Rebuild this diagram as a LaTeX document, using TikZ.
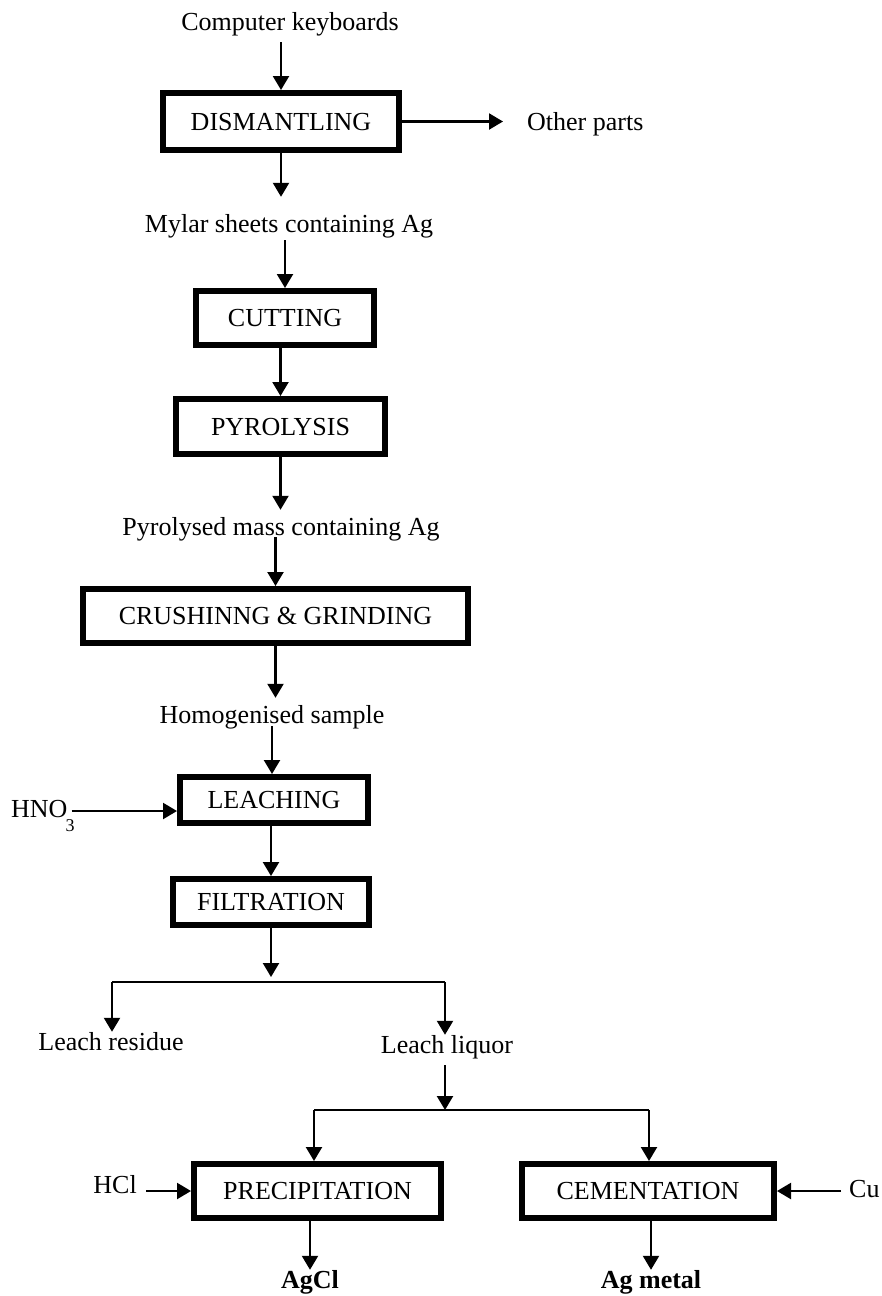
\documentclass[tikz,border=0pt]{standalone}
\usepackage{fontspec}
\setmainfont{Liberation Serif}
\usetikzlibrary{arrows.meta}

\tikzset{
  stagebox/.style={draw, line width=6pt, inner sep=0pt,
    text height=17pt, text depth=0pt, font=\fontsize{26}{30}\selectfont},
  lbl/.style={inner sep=0pt, text height=18pt, text depth=6pt,
    font=\fontsize{26}{30}\selectfont},
  arr/.style={line width=2.2pt, -{Triangle[length=14pt,width=16pt]}},
  branch/.style={line width=1.4pt}
}

\begin{document}
\begin{tikzpicture}[x=1pt, y=-1pt]
\useasboundingbox (0,0) rectangle (882,1296);

% process stages
\node[stagebox, minimum width=236pt, minimum height=57pt] (dis)   at (281,121.5) {DISMANTLING};
\node[stagebox, minimum width=178pt, minimum height=54pt] (cut)   at (285,318)   {CUTTING};
\node[stagebox, minimum width=209pt, minimum height=55pt] (pyr)   at (280.5,426.5) {PYROLYSIS};
\node[stagebox, minimum width=385pt, minimum height=54pt] (crush) at (275.5,616) {CRUSHINNG \& GRINDING};
\node[stagebox, minimum width=188pt, minimum height=46pt] (leach) at (274,800)   {LEACHING};
\node[stagebox, minimum width=196pt, minimum height=46pt] (fil)   at (271,902)   {FILTRATION};
\node[stagebox, minimum width=247pt, minimum height=54pt] (prec)  at (317.5,1191) {PRECIPITATION};
\node[stagebox, minimum width=252pt, minimum height=54pt] (cem)   at (648,1191)  {CEMENTATION};

% material streams
\node[lbl, anchor=base] (ck)    at (290,30)   {Computer keyboards};
\node[lbl, anchor=base west] (oth) at (527,130) {Other parts};
\node[lbl, anchor=base] (mylar) at (289,232)  {Mylar sheets containing Ag};
\node[lbl, anchor=base] (pyro)  at (281,535)  {Pyrolysed mass containing Ag};
\node[lbl, anchor=base] (hom)   at (272,723)  {Homogenised sample};
\node[lbl, anchor=base west] (hno) at (11,817) {HNO\kern-2pt\raisebox{-14pt}{\fontsize{18}{18}\selectfont 3}};
\node[lbl, anchor=base] (res)   at (111,1050) {Leach residue};
\node[lbl, anchor=base] (liq)   at (447,1053) {Leach liquor};
\node[lbl, anchor=base east] (hcl) at (137,1193) {HCl};
\node[lbl, anchor=base west] (cu)  at (849,1197) {Cu};
\node[lbl, anchor=base, font=\fontsize{26}{30}\selectfont\bfseries] (agcl) at (310,1288) {AgCl};
\node[lbl, anchor=base, font=\fontsize{26}{30}\selectfont\bfseries] (agm)  at (651,1288) {Ag metal};

% branching points
\coordinate (fj) at (271,977);
\coordinate (sl) at (112,982);
\coordinate (sr) at (445,982);
\coordinate (lj) at (445,1110);
\coordinate (pl) at (314,1110);
\coordinate (cl) at (649,1110);

% main line
\draw[arr, shorten <=6pt] (ck.south -| dis.north) -- (dis.north);
\draw[arr, shorten >=17pt] (dis.south) -- (dis.south |- mylar.north);
\draw[arr, shorten >=24pt] (dis.east) -- (dis.east -| oth.west);
\draw[arr, shorten <=2pt] (mylar.south -| cut.north) -- (cut.north);
\draw[arr] (cut.south -| pyr.north) -- (pyr.north);
\draw[arr, shorten >=7pt] (pyr.south) -- (pyr.south |- pyro.north);
\draw[arr, shorten <=-4pt] (pyro.south -| crush.north) -- (crush.north);
\draw[arr, shorten >=7pt] (crush.south) -- (crush.south |- hom.north);
\draw[arr, shorten <=-3pt] (hom.south) -- (hom.south |- leach.north);
\draw[arr] (leach.south -| fil.north) -- (fil.north);
\draw[arr, shorten <=-3pt] (hno.east) -- (hno.east -| leach.west);
\draw[arr] (fil.south) -- (fj);

% solid/liquid separation
\draw[branch] (sl) -- (sr);
\draw[arr] (sl) -- (sl |- res.north);
\draw[arr] (sr) -- (sr |- liq.north);
\draw[arr, shorten <=6pt] (liq.south -| lj) -- (lj);

% silver recovery routes
\draw[branch] (pl) -- (cl);
\draw[arr] (pl) -- (pl |- prec.north);
\draw[arr] (cl) -- (cl |- cem.north);
\draw[arr, shorten <=9pt] (hcl.east |- prec.west) -- (prec.west);
\draw[arr, shorten <=8pt] (cu.west |- cem.east) -- (cem.east);
\draw[arr] (agcl.north |- prec.south) -- (agcl.north);
\draw[arr] (cem.south -| agm.north) -- (agm.north);
\end{tikzpicture}
\end{document}
